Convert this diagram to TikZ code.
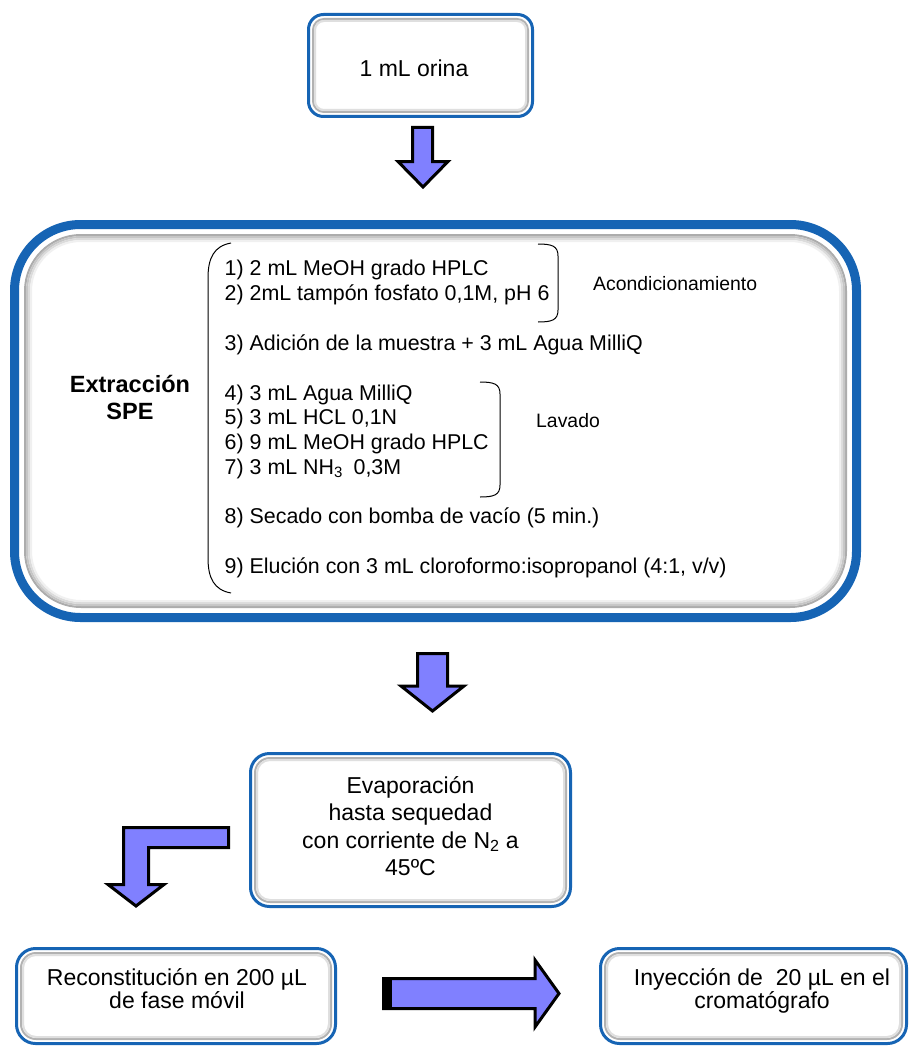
\documentclass[tikz,border=0pt]{standalone}
\usepackage{fontspec}
\setmainfont{Liberation Sans}
\definecolor{bordblue}{RGB}{22,100,180}
\definecolor{arrfill}{RGB}{128,128,255}
\tikzset{
  blueedge/.style={draw=bordblue, line width=3pt},
  bigblue/.style={draw=bordblue, line width=9pt},
  greyA/.style={draw=gray!60, line width=2pt},
  greyB/.style={draw=gray!25, line width=2pt},
  blockarrow/.style={draw=black, fill=arrfill, line width=3pt, line join=miter},
  itemtxt/.style={anchor=base west, inner sep=0pt, font=\fontsize{21.4}{25}\selectfont},
  labtxt/.style={anchor=base west, inner sep=0pt, font=\fontsize{19.4}{23}\selectfont},
  boxtxt/.style={anchor=base, inner sep=0pt, font=\fontsize{23}{27}\selectfont},
  boldtxt/.style={anchor=base, inner sep=0pt, font=\fontsize{23.5}{27}\selectfont\bfseries},
  bracketline/.style={draw=black, line width=1pt},
}
\begin{document}
\begin{tikzpicture}[x=1pt, y=-1pt]
\useasboundingbox (0,0) rectangle (911,1046);
\clip (0,0) rectangle (911,1046);
\fill[white] (0,0) rectangle (911,1046);

% Box 1
\draw[blueedge, rounded corners=15pt] (308.5,14.5) rectangle (532.5,116.5);
\draw[greyA, rounded corners=11pt] (313,19) rectangle (528,112);
\draw[greyB, rounded corners=9pt] (315,21) rectangle (526,110);
\node[boxtxt] (orina) at (414,77) {1 mL orina};

% Arrow 1
\draw[blockarrow] (412.5,127.5) -- (432.5,127.5) -- (432.5,161.5) -- (448,161.5) -- (423,187) -- (398,161.5) -- (412.5,161.5) -- cycle;

% Big box
\draw[bigblue, rounded corners=66pt] (14.5,224.5) rectangle (856.5,617.5);
\draw[draw=gray!65, line width=2pt, rounded corners=56pt] (25,235) rectangle (846,607);
\draw[draw=gray!45, line width=2pt, rounded corners=54pt] (27,237) rectangle (844,605);
\draw[draw=gray!28, line width=2pt, rounded corners=52pt] (29,239) rectangle (842,603);
\draw[draw=gray!12, line width=2pt, rounded corners=50pt] (31,241) rectangle (840,601);

\node[boldtxt] (extr) at (130,392) {Extracción};
\node[boldtxt] (spe) at (130,419) {SPE};

\draw[bracketline] (231,243) .. controls (214,246) and (208,258) .. (208,278) -- (208,558) .. controls (208,578) and (214,590) .. (231,593);

\node[itemtxt] (i1) at (224.5,275) {1) 2 mL MeOH grado HPLC};
\node[itemtxt] (i2) at (224.5,300) {2) 2mL tampón fosfato 0,1M, pH 6};
\node[itemtxt] (i3) at (224.5,350) {3) Adición de la muestra + 3 mL Agua MilliQ};
\node[itemtxt] (i4) at (224.5,400) {4) 3 mL Agua MilliQ};
\node[itemtxt] (i5) at (224.5,424) {5) 3 mL HCL 0,1N};
\node[itemtxt] (i6) at (224.5,449) {6) 9 mL MeOH grado HPLC};
\node[itemtxt] (i7) at (224.5,474) {7) 3 mL NH\textsubscript{3}\hspace{0.5em}0,3M};
\node[itemtxt] (i8) at (224.5,523) {8) Secado con bomba de vacío (5 min.)};
\node[itemtxt] (i9) at (224.5,573) {9) Elución con 3 mL cloroformo:isopropanol (4:1, v/v)};

\draw[bracketline] (538,244) .. controls (552,244) and (558,246) .. (558,256) -- (558,310) .. controls (558,320) and (552,322) .. (538,322);
\draw[bracketline] (480,382) .. controls (494,382) and (500,384) .. (500,394) -- (500,485) .. controls (500,495) and (494,497) .. (480,497);

\node[labtxt] (acond) at (593,290) {Acondicionamiento};
\node[labtxt] (lav) at (536,427) {Lavado};

% Arrow 2
\draw[blockarrow] (417.5,653.5) -- (447.5,653.5) -- (447.5,686) -- (464,686) -- (432.5,711) -- (401,686) -- (417.5,686) -- cycle;

% Box 3
\draw[blueedge, rounded corners=19pt] (250.5,753.5) rectangle (570.5,906.5);
\draw[greyA, rounded corners=15pt] (255,758) rectangle (566,902);
\draw[greyB, rounded corners=13pt] (257,760) rectangle (564,900);
\node[boxtxt] (ev1) at (410.5,793) {Evaporación};
\node[boxtxt] (ev2) at (410.5,820) {hasta sequedad};
\node[boxtxt] (ev3) at (410.5,848) {con corriente de N\textsubscript{2} a};
\node[boxtxt] (ev4) at (410.5,875) {45ºC};

% L arrow
\draw[blockarrow] (123.5,827.5) -- (228.5,827.5) -- (228.5,847.5) -- (148.5,847.5) -- (148.5,884.5) -- (164,884.5) -- (136,906) -- (108,884.5) -- (123.5,884.5) -- cycle;

% Box 4
\draw[blueedge, rounded corners=19pt] (16.5,948.5) rectangle (335.5,1043.5);
\draw[greyA, rounded corners=15pt] (21,953) rectangle (331,1039);
\draw[greyB, rounded corners=13pt] (23,955) rectangle (329,1037);
\node[boxtxt] (rc1) at (177,985) {Reconstitución en 200 µL};
\node[boxtxt] (rc2) at (177,1008) {de fase móvil};

% Right arrow
\draw[blockarrow] (383.5,978.5) -- (535,978.5) -- (535,960) -- (559,993.5) -- (535,1027) -- (535,1008.5) -- (383.5,1008.5) -- cycle;
\fill[black] (382,977) rectangle (392,1010);

% Box 5
\draw[blueedge, rounded corners=19pt] (600.5,948.5) rectangle (906.5,1043.5);
\draw[greyA, rounded corners=15pt] (605,953) rectangle (902,1039);
\draw[greyB, rounded corners=13pt] (607,955) rectangle (900,1037);
\node[boxtxt] (iy1) at (762,985) {Inyección de\ \ 20 µL en el};
\node[boxtxt] (iy2) at (762,1008) {cromatógrafo};
\end{tikzpicture}
\end{document}
